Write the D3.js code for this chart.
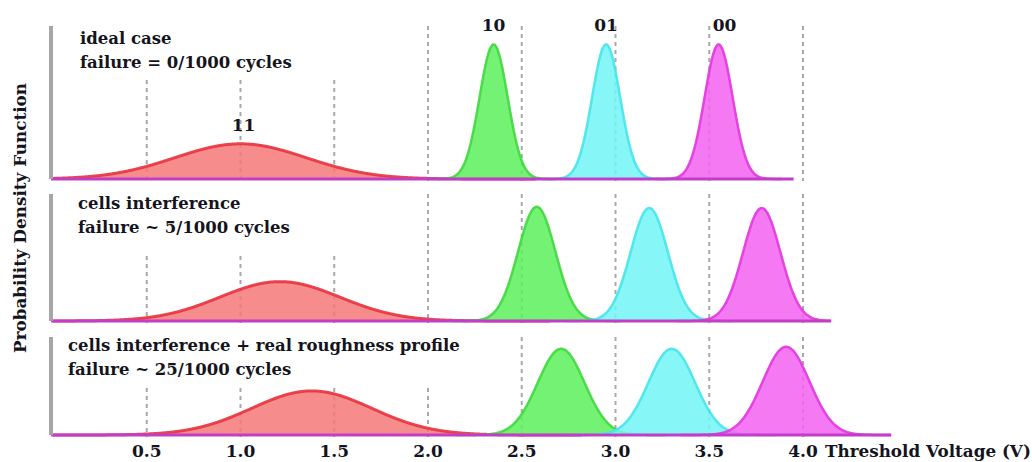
<!DOCTYPE html>
<html>
<head>
<meta charset="utf-8">
<script src="https://cdn.jsdelivr.net/npm/d3@7"></script>
<style>
  body { margin: 0; background: #fff; }
  svg text { font-family: "DejaVu Serif", serif; font-weight: bold; fill: #141420; }
</style>
</head>
<body>
<div id="my_dataviz"></div>
<script>
// values
var voltageTicks = [0.5, 1.0, 1.5, 2.0, 2.5, 3.0, 3.5, 4.0];
var states = ["11", "10", "01", "00"];
var panelTitles = [
  ["ideal case", "failure = 0/1000 cycles"],
  ["cells interference", "failure ~ 5/1000 cycles"],
  ["cells interference + real roughness profile", "failure ~ 25/1000 cycles"]
];
// mean threshold voltage of each state, per panel
var means1 = [1.00, 2.35, 2.95, 3.55];
var means2 = [1.21, 2.58, 3.18, 3.78];
var means3 = [1.38, 2.71, 3.30, 3.91];
// spread (V) of each state, per panel
var sigmas1 = [0.35, 0.075, 0.075, 0.075];
var sigmas2 = [0.32, 0.10, 0.10, 0.10];
var sigmas3 = [0.32, 0.125, 0.125, 0.125];
// peak height, relative to panel height
var peaks1 = [0.23, 0.88, 0.88, 0.88];
var peaks2 = [0.31, 0.90, 0.89, 0.89];
var peaks3 = [0.45, 0.88, 0.88, 0.90];
// last voltage drawn in each panel
var vmax = [3.95, 4.15, 4.47];

var width = 1032, height = 462;

var svg = d3.select("#my_dataviz")
  .append("svg")
  .attr("width", width)
  .attr("height", height);

var fills = ["#f47878", "#5cf05c", "#72f4f4", "#f262f0"];
var strokes = ["#e8323c", "#3fd83f", "#45e4ec", "#e236e0"];

var x = d3.scaleLinear().domain([0, 4]).range([53, 803]);

var panels = [
  { top: 26, base: 179, means: means1, sigmas: sigmas1, peaks: peaks1, tx: 80, ty: 44, coverB: 80, coverR: 410 },
  { top: 194, base: 321, means: means2, sigmas: sigmas2, peaks: peaks2, tx: 78, ty: 209, coverB: 256, coverR: 410 },
  { top: 337, base: 435, means: means3, sigmas: sigmas3, peaks: peaks3, tx: 68, ty: 351, coverB: 388, coverR: 470 }
];

panels.forEach(function (p, pi) {
  var g = svg.append("g");
  var y = d3.scaleLinear().domain([0, 1]).range([p.base, p.top]);

  // dashed grid
  g.append("g")
    .selectAll("line")
    .data(voltageTicks)
    .enter().append("line")
    .attr("x1", function (d) { return x(d); })
    .attr("x2", function (d) { return x(d); })
    .attr("y1", function (d) { return x(d) < p.coverR ? p.coverB : p.top; })
    .attr("y2", p.base + 2)
    .attr("stroke", "#a8a8a8")
    .attr("stroke-width", 2)
    .attr("stroke-dasharray", "4,4");

  var area = d3.area()
    .x(function (d) { return x(d[0]); })
    .y0(y(0))
    .y1(function (d) { return y(d[1]); })
    .curve(d3.curveBasis);
  var line = d3.line()
    .x(function (d) { return x(d[0]); })
    .y(function (d) { return y(d[1]); })
    .curve(d3.curveBasis);

  states.forEach(function (s, i) {
    var m = p.means[i], sd = p.sigmas[i], h = p.peaks[i];
    var lo = i == 0 ? 0 : Math.max(0, m - 4.5 * sd);
    var hi = Math.min(vmax[pi], m + 4.5 * sd);
    var pts = d3.range(lo, hi, 0.005).concat([hi]).map(function (v) {
      return [v, h * Math.exp(-(v - m) * (v - m) / (2 * sd * sd))];
    });
    g.append("path")
      .datum(pts)
      .attr("d", area)
      .attr("fill", fills[i])
      .attr("fill-opacity", 0.85);
    g.append("path")
      .datum(pts)
      .attr("d", line)
      .attr("fill", "none")
      .attr("stroke", strokes[i])
      .attr("stroke-width", i == 0 ? 3 : 2.5)
      .attr("stroke-opacity", 0.9);
  });

  // baseline
  g.append("line")
    .attr("x1", 51).attr("x2", x(vmax[pi]))
    .attr("y1", p.base).attr("y2", p.base)
    .attr("stroke", "#c23ec8")
    .attr("stroke-width", 3);

  // left axis
  g.append("line")
    .attr("x1", 51).attr("x2", 51)
    .attr("y1", p.top).attr("y2", p.base)
    .attr("stroke", "#a6a6a6")
    .attr("stroke-width", 4);

  g.selectAll(".ptitle")
    .data(panelTitles[pi])
    .enter().append("text")
    .attr("x", p.tx)
    .attr("y", function (d, j) { return p.ty + j * 24; })
    .style("font-size", "16.5px")
    .text(function (d) { return d; });
});

// state labels over the ideal case
var y1 = d3.scaleLinear().domain([0, 1]).range([panels[0].base, panels[0].top]);
svg.selectAll(".state")
  .data(states)
  .enter().append("text")
  .attr("x", function (d, i) { return x(means1[i]) + (i == 0 ? 3 : i == 3 ? 6 : 0); })
  .attr("y", function (d, i) { return y1(peaks1[i]) - 13; })
  .style("text-anchor", "middle")
  .style("font-size", "17px")
  .text(function (d) { return d; });

// x ticks under the last panel
svg.append("g")
  .selectAll("text")
  .data(voltageTicks)
  .enter().append("text")
  .attr("x", function (d) { return x(d); })
  .attr("y", 457)
  .style("text-anchor", "middle")
  .style("font-size", "17px")
  .text(function (d) { return d.toFixed(1); });

svg.append("text")
  .attr("x", 825)
  .attr("y", 457)
  .style("font-size", "16.8px")
  .text("Threshold Voltage (V)");

svg.append("text")
  .attr("transform", "translate(26,218) rotate(-90)")
  .style("text-anchor", "middle")
  .style("font-size", "16.8px")
  .text("Probability Density Function");
</script>
</body>
</html>
